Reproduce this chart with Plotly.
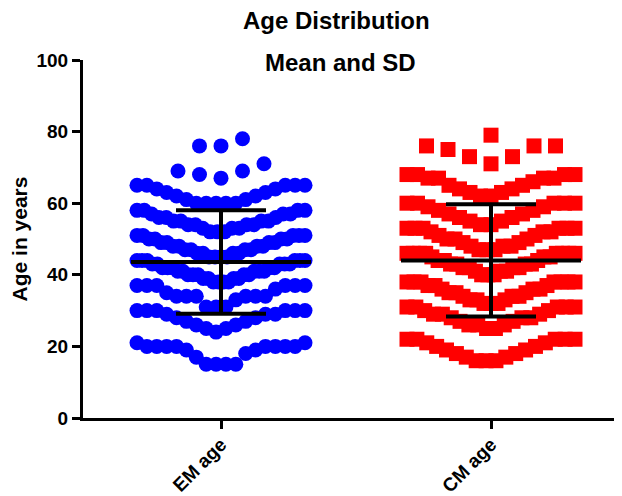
import numpy as np
import plotly.graph_objects as go

categories = ["EM age", "CM age"]

em_age = [15, 15, 15, 15, 17, 18, 19, 19, 20, 20, 20, 20, 20, 20, 20, 20, 21, 21,
          24, 25, 25, 26, 26, 27, 27, 28, 28, 29, 29, 29, 30, 30, 30, 30, 30, 30,
          31, 31, 31, 33, 34, 34, 34, 34, 34, 34, 35, 36, 37, 37, 37, 37, 37, 37,
          38, 38, 38, 38, 39, 39, 39, 39, 40, 40, 40, 40, 40, 41, 41, 41, 41, 41,
          42, 42, 42, 42, 42, 43, 43, 43, 43, 43, 44, 44, 44, 44, 44, 44,
          45, 45, 45, 45, 46, 46, 46, 46, 47, 47, 47, 47, 48, 48, 48, 48,
          49, 49, 49, 49, 50, 50, 50, 50, 51, 51, 51, 51, 51,
          52, 52, 52, 53, 53, 53, 54, 54, 54, 54, 55, 55, 55, 55, 56, 56, 56,
          57, 57, 57, 58, 58, 58, 58,
          60, 60, 60, 60, 60, 61, 61, 62, 62, 63, 63, 64, 64, 65, 65, 65, 65, 65,
          67, 68, 69, 69, 71, 76, 76, 78]

cm_age = [16, 16, 16, 17, 17, 18, 18, 19, 19, 20, 20, 21, 21, 22, 22, 22, 22, 22,
          25, 25, 26, 26, 26, 27, 27, 28, 28, 28, 29, 29, 29, 30, 30, 31, 31, 31, 31, 31,
          32, 32, 32, 33, 33, 33, 34, 34, 34, 35, 35, 35, 36, 36, 36, 37, 37, 37,
          38, 38, 38, 38, 38, 38, 38,
          40, 40, 40, 41, 41, 41, 42, 42, 42, 42, 43, 43, 43, 43, 44, 44, 44,
          45, 45, 45, 46, 46, 46, 46, 46, 46, 46, 46,
          47, 47, 47, 48, 48, 48, 49, 49, 50, 50, 50, 51, 51, 52, 52, 52,
          53, 53, 53, 53, 53, 53,
          54, 54, 55, 55, 56, 56, 57, 57, 58, 58, 59, 59, 60, 60, 60, 60, 60,
          62, 62, 63, 63, 64, 64, 65, 65, 66, 67, 67, 67, 67, 68, 68, 68, 68,
          71, 73, 73, 75, 76, 76, 76, 79]

y_ticks = [0, 20, 40, 60, 80, 100]

# The page body has an 8px margin, so the figure is drawn 8px in from the
# window's top-left corner; size the figure so it fills the rest exactly.
OFF = 8
W, H = 622 - OFF, 496 - OFF
L, R, T, B = 83 - OFF, 1, 60 - OFF, 78
CAT_PX = 270.0                 # distance between category centres in pixels
X0 = (83 - 221) / CAT_PX       # left end of x range (screen px 83 -> axis start)
X1 = X0 + (W - L - R) / CAT_PX


def swarm(values, center, bin_h=6, max_half=84.0, max_step=21.5):
    vals = sorted(values)
    xs, ys = [], []
    i = 0
    while i < len(vals):
        j = i
        while j < len(vals) and vals[j] <= vals[i] + bin_h:
            j += 1
        row = vals[i:j]
        n = len(row)
        step = min(max_step, 2 * max_half / (n - 1)) if n > 1 else 0.0
        pos = [(k - (n - 1) / 2) * step for k in range(n)]
        order = sorted(range(n), key=lambda k: (round(abs(pos[k]), 6), pos[k]))
        for v, k in zip(row, order):
            xs.append(center + pos[k] / CAT_PX)
            ys.append(v)
        i = j
    return xs, ys


fig = go.Figure()

series = [(em_age, "#0000FF", "circle", 15), (cm_age, "#FF0000", "square", 15)]
for idx, (vals, col, sym, sz) in enumerate(series):
    xs, ys = swarm(vals, idx)
    fig.add_trace(go.Scatter(x=xs, y=ys, mode="markers",
                             marker=dict(color=col, symbol=sym, size=sz, line=dict(width=0)),
                             showlegend=False, hoverinfo="y"))

# mean and SD bars
for idx, vals in enumerate([em_age, cm_age]):
    m = float(np.mean(vals))
    s = float(np.std(vals, ddof=1))
    hw_mean = 90 / CAT_PX
    hw_cap = 45 / CAT_PX
    bar_x = [idx - hw_mean, idx + hw_mean, None,
             idx - hw_cap, idx + hw_cap, None,
             idx - hw_cap, idx + hw_cap, None,
             idx, idx]
    bar_y = [m, m, None, m + s, m + s, None, m - s, m - s, None, m - s, m + s]
    fig.add_trace(go.Scatter(x=bar_x, y=bar_y, mode="lines",
                             line=dict(color="black", width=4),
                             showlegend=False, hoverinfo="skip"))

font_fam = "Liberation Sans, Arial, sans-serif"
pw = W - L - R
ph = H - T - B


def px_to_paper(x, y):
    # x, y in window pixels
    return (x - OFF - L) / pw, (H - B - (y - OFF)) / ph


tx1, ty1 = px_to_paper(336, 21)
tx2, ty2 = px_to_paper(340, 62)

fig.update_layout(
    width=W, height=H,
    margin=dict(l=L, r=R, t=T, b=B, autoexpand=False),
    paper_bgcolor="white", plot_bgcolor="white",
    font=dict(family=font_fam, color="black", size=19, weight="bold"),
    xaxis=dict(
        range=[X0, X1], tickmode="array", tickvals=[0, 1], ticktext=categories,
        tickangle=-45, showline=True, linecolor="black", linewidth=3,
        ticks="outside", ticklen=8, tickwidth=3, tickcolor="black",
        ticklabelstandoff=-3,
        showgrid=False, zeroline=False, automargin=False,
        tickfont=dict(family=font_fam, size=19, weight="bold", color="black"),
    ),
    yaxis=dict(
        range=[0, 100], tickmode="array", tickvals=y_ticks,
        ticktext=[str(v) for v in y_ticks],
        showline=True, linecolor="black", linewidth=3,
        ticks="outside", ticklen=8, tickwidth=3, tickcolor="black",
        showgrid=False, zeroline=False, automargin=False,
        tickfont=dict(family=font_fam, size=19, weight="bold", color="black"),
        title=dict(text="Age in years", standoff=4,
                   font=dict(family=font_fam, size=21, weight="bold", color="black")),
    ),
    annotations=[
        dict(text="Age Distribution", x=tx1, y=ty1, xref="paper", yref="paper",
             xanchor="center", yanchor="middle", showarrow=False,
             font=dict(family=font_fam, size=24, weight="bold", color="black")),
        dict(text="Mean and SD", x=tx2, y=ty2, xref="paper", yref="paper",
             xanchor="center", yanchor="middle", showarrow=False,
             font=dict(family=font_fam, size=24, weight="bold", color="black")),
    ],
)

fig.write_html("out.html")
